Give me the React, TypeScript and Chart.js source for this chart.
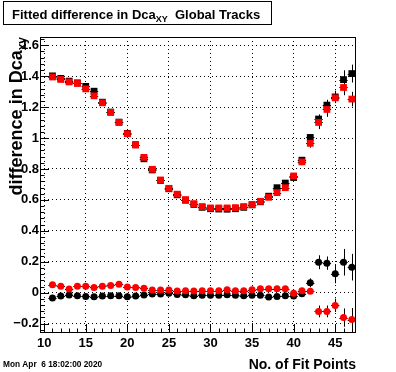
import { useEffect, useRef } from 'react';
import { Chart, registerables } from 'chart.js';

Chart.register(...registerables);

const fitPoints = [11, 12, 13, 14, 15, 16, 17, 18, 19, 20, 21, 22, 23, 24, 25, 26, 27, 28, 29, 30, 31, 32, 33, 34, 35, 36, 37, 38, 39, 40, 41, 42, 43, 44, 45, 46, 47];

const upperRed = [1.395, 1.379, 1.363, 1.353, 1.318, 1.273, 1.228, 1.166, 1.101, 1.028, 0.955, 0.875, 0.798, 0.729, 0.675, 0.637, 0.602, 0.576, 0.557, 0.548, 0.548, 0.548, 0.55, 0.557, 0.57, 0.591, 0.617, 0.647, 0.679, 0.755, 0.846, 0.966, 1.101, 1.185, 1.26, 1.327, 1.252];
const upperRedErr = [0.006, 0.006, 0.006, 0.006, 0.006, 0.006, 0.006, 0.006, 0.006, 0.006, 0.006, 0.006, 0.006, 0.006, 0.006, 0.006, 0.006, 0.006, 0.006, 0.006, 0.006, 0.006, 0.006, 0.006, 0.006, 0.006, 0.006, 0.006, 0.006, 0.008, 0.02, 0.028, 0.043, 0.048, 0.03, 0.05, 0.047];

const upperBlack = [1.402, 1.386, 1.368, 1.357, 1.334, 1.303, 1.232, 1.168, 1.103, 1.03, 0.957, 0.866, 0.794, 0.726, 0.672, 0.633, 0.598, 0.571, 0.552, 0.543, 0.541, 0.54, 0.543, 0.552, 0.568, 0.588, 0.624, 0.679, 0.709, 0.745, 0.857, 1.004, 1.123, 1.213, 1.266, 1.378, 1.417];
const upperBlackErr = [0.006, 0.006, 0.006, 0.006, 0.006, 0.006, 0.006, 0.006, 0.006, 0.006, 0.006, 0.006, 0.006, 0.006, 0.006, 0.006, 0.006, 0.006, 0.006, 0.006, 0.006, 0.006, 0.006, 0.006, 0.006, 0.006, 0.006, 0.006, 0.006, 0.008, 0.015, 0.02, 0.03, 0.035, 0.04, 0.06, 0.058];

const lowerRed = [0.052, 0.041, 0.024, 0.041, 0.041, 0.034, 0.041, 0.047, 0.054, 0.037, 0.034, 0.028, 0.017, 0.017, 0.017, 0.011, 0.013, 0.011, 0.013, 0.013, 0.013, 0.019, 0.013, 0.013, 0.019, 0.026, 0.026, 0.026, 0.026, -0.004, 0.013, 0.009, -0.121, -0.121, -0.082, -0.161, -0.174];
const lowerRedErr = [0.006, 0.006, 0.006, 0.006, 0.006, 0.006, 0.006, 0.006, 0.006, 0.006, 0.006, 0.006, 0.006, 0.006, 0.006, 0.006, 0.006, 0.006, 0.006, 0.006, 0.006, 0.006, 0.006, 0.006, 0.006, 0.006, 0.006, 0.006, 0.006, 0.006, 0.008, 0.01, 0.038, 0.038, 0.043, 0.059, 0.075];

const lowerBlack = [-0.034, -0.021, -0.015, -0.019, -0.024, -0.026, -0.021, -0.019, -0.019, -0.026, -0.021, -0.015, -0.009, -0.009, -0.004, -0.011, -0.013, -0.019, -0.017, -0.017, -0.017, -0.013, -0.017, -0.019, -0.017, -0.017, -0.028, -0.024, -0.019, -0.022, -0.006, 0.064, 0.197, 0.191, 0.123, 0.197, 0.165];
const lowerBlackErr = [0.006, 0.006, 0.006, 0.006, 0.006, 0.006, 0.006, 0.006, 0.006, 0.006, 0.006, 0.006, 0.006, 0.006, 0.006, 0.006, 0.006, 0.006, 0.006, 0.006, 0.006, 0.006, 0.006, 0.006, 0.006, 0.006, 0.006, 0.006, 0.006, 0.006, 0.01, 0.029, 0.045, 0.043, 0.062, 0.086, 0.086];

const xTickValues = [10, 15, 20, 25, 30, 35, 40, 45];
const yTickValues = [-0.2, 0, 0.2, 0.4, 0.6, 0.8, 1, 1.2, 1.4, 1.6];

const X_MIN = 9.5;
const X_MAX = 47.5;
const Y_MIN = -0.2606;
const Y_MAX = 1.6535;

const FONT = '"Liberation Sans", Arial, Helvetica, sans-serif';

const errorBarPlugin = {
  id: 'errorBars',
  beforeDatasetDraw(chart: any, args: any) {
    const ds = chart.data.datasets[args.index];
    const errs: number[] | undefined = ds.errors;
    if (!errs) return;
    const xs = chart.scales.x;
    const ys = chart.scales.y;
    const ctx = chart.ctx;
    ctx.save();
    ctx.strokeStyle = '#000';
    ctx.lineWidth = 1;
    ctx.beginPath();
    ds.data.forEach((p: any, i: number) => {
      const x = Math.round(xs.getPixelForValue(p.x)) + 0.5;
      const yy = Math.round(ys.getPixelForValue(p.y)) + 0.5;
      const y1 = ys.getPixelForValue(p.y - errs[i]);
      const y2 = ys.getPixelForValue(p.y + errs[i]);
      const xl = xs.getPixelForValue(p.x - 0.5);
      const xr = xs.getPixelForValue(p.x + 0.5);
      ctx.moveTo(x, y1);
      ctx.lineTo(x, y2);
      ctx.moveTo(xl, yy);
      ctx.lineTo(xr, yy);
    });
    ctx.stroke();
    ctx.restore();
  },
};

function drawSubText(ctx: CanvasRenderingContext2D, parts: { t: string; sub?: boolean }[], x: number, y: number, size: number, subSize: number, subDrop: number) {
  let cx = x;
  parts.forEach((p) => {
    ctx.font = `bold ${p.sub ? subSize : size}px ${FONT}`;
    ctx.fillText(p.t, cx, p.sub ? y + subDrop : y);
    cx += ctx.measureText(p.t).width;
  });
  return cx - x;
}

function measureSubText(ctx: CanvasRenderingContext2D, parts: { t: string; sub?: boolean }[], size: number, subSize: number) {
  let w = 0;
  parts.forEach((p) => {
    ctx.font = `bold ${p.sub ? subSize : size}px ${FONT}`;
    w += ctx.measureText(p.t).width;
  });
  return w;
}

const framePlugin = {
  id: 'rootFrame',
  afterDraw(chart: any) {
    const ctx: CanvasRenderingContext2D = chart.ctx;
    const { left, right, top, bottom } = chart.chartArea;
    const xs = chart.scales.x;
    const ys = chart.scales.y;
    ctx.save();
    ctx.strokeStyle = '#000';
    ctx.lineWidth = 1;
    // frame
    ctx.strokeRect(Math.round(left) + 0.5, Math.round(top) + 0.5, Math.round(right - left) - 1, Math.round(bottom - top) - 1);
    // y ticks
    ctx.beginPath();
    const yMajorLen = 9;
    const yMinorLen = 4.5;
    const yStep = yTickValues[1] - yTickValues[0];
    const yAll: { v: number; major: boolean }[] = [];
    yTickValues.forEach((v, i) => {
      yAll.push({ v, major: true });
      for (let k = 1; k < 5; k++) {
        yAll.push({ v: v + (yStep * k) / 5, major: false });
      }
      if (i === 0) {
        for (let k = 1; k < 5; k++) yAll.push({ v: v - (yStep * k) / 5, major: false });
      }
    });
    yAll.forEach(({ v, major }) => {
      if (v < Y_MIN || v > Y_MAX) return;
      const py = Math.round(ys.getPixelForValue(v)) + 0.5;
      ctx.moveTo(left, py);
      ctx.lineTo(left + (major ? yMajorLen : yMinorLen), py);
    });
    // x ticks
    for (let v = Math.ceil(X_MIN); v <= X_MAX; v++) {
      const major = xTickValues.includes(v);
      const px = Math.round(xs.getPixelForValue(v)) + 0.5;
      ctx.moveTo(px, bottom);
      ctx.lineTo(px, bottom - (major ? 9 : 4.5));
    }
    ctx.stroke();

    // title box
    ctx.fillStyle = '#000';
    ctx.strokeRect(3.5, 1.5, 268, 23);
    ctx.textBaseline = 'alphabetic';
    ctx.textAlign = 'left';
    drawSubText(ctx, [{ t: 'Fitted difference in Dca' }, { t: 'XY', sub: true }, { t: '  Global Tracks' }], 12, 18.5, 13, 9, 3);

    // x axis title
    ctx.font = `bold 14px ${FONT}`;
    ctx.textAlign = 'right';
    ctx.fillText('No. of Fit Points', 356, 369);

    // y axis title
    const yParts = [{ t: 'difference in Dca' }, { t: 'xy', sub: true }];
    ctx.textAlign = 'left';
    const ySize = 18;
    const ySub = 12;
    const w = measureSubText(ctx, yParts, ySize, ySub);
    ctx.save();
    ctx.translate(22, 37 + w);
    ctx.rotate(-Math.PI / 2);
    drawSubText(ctx, yParts, 0, 0, ySize, ySub, 4);
    ctx.restore();

    // date
    ctx.font = `bold 8.3px ${FONT}`;
    ctx.textAlign = 'left';
    ctx.fillText('Mon Apr  6 18:02:00 2020', 3, 367);
    ctx.restore();
  },
};

export default function App() {
  const ref = useRef<HTMLCanvasElement>(null);

  useEffect(() => {
    const mk = (ys: number[]) => fitPoints.map((x, i) => ({ x, y: ys[i] }));
    const chart = new Chart(ref.current as HTMLCanvasElement, {
      type: 'scatter',
      data: {
        datasets: [
          {
            label: 'upper red',
            data: mk(upperRed),
            errors: upperRedErr,
            pointStyle: 'rect',
            pointRadius: 4.8,
            backgroundColor: '#ff0000',
            borderColor: '#ff0000',
            borderWidth: 0,
          } as any,
          {
            label: 'upper black',
            data: mk(upperBlack),
            errors: upperBlackErr,
            pointStyle: 'rect',
            pointRadius: 4.8,
            backgroundColor: '#000000',
            borderColor: '#000000',
            borderWidth: 0,
          } as any,
          {
            label: 'lower red',
            data: mk(lowerRed),
            errors: lowerRedErr,
            pointStyle: 'circle',
            pointRadius: 3.5,
            backgroundColor: '#ff0000',
            borderColor: '#ff0000',
            borderWidth: 0,
          } as any,
          {
            label: 'lower black',
            data: mk(lowerBlack),
            errors: lowerBlackErr,
            pointStyle: 'circle',
            pointRadius: 3.5,
            backgroundColor: '#000000',
            borderColor: '#000000',
            borderWidth: 0,
          } as any,
        ],
      },
      options: {
        responsive: false,
        animation: false,
        devicePixelRatio: 1,
        layout: { padding: { top: 37, right: 40, left: 0, bottom: 0 } },
        plugins: {
          legend: { display: false },
          tooltip: { enabled: false },
          title: { display: false },
        },
        scales: {
          x: {
            type: 'linear',
            min: X_MIN,
            max: X_MAX,
            afterBuildTicks: (scale: any) => {
              scale.ticks = xTickValues.map((value) => ({ value }));
            },
            afterFit: (scale: any) => {
              scale.height = 39;
            },
            ticks: {
              color: '#000',
              font: { family: FONT, size: 13, weight: 'bold' },
              padding: 3,
              maxRotation: 0,
              autoSkip: false,
              callback: (v: any) => String(v),
            },
            grid: { color: '#000', lineWidth: 1, drawTicks: false },
            border: { display: false, dash: [1, 3] },
          },
          y: {
            type: 'linear',
            min: Y_MIN,
            max: Y_MAX,
            afterBuildTicks: (scale: any) => {
              scale.ticks = yTickValues.map((value) => ({ value }));
            },
            afterFit: (scale: any) => {
              scale.width = 40;
            },
            ticks: {
              color: '#000',
              font: { family: FONT, size: 13, weight: 'bold' },
              padding: 1,
              autoSkip: false,
              callback: (v: any) => (v < 0 ? '\u2212' + String(Math.abs(v)) : String(v)),
            },
            grid: { color: '#000', lineWidth: 1, drawTicks: false },
            border: { display: false, dash: [1, 3] },
          },
        },
      } as any,
      plugins: [errorBarPlugin, framePlugin],
    });
    return () => chart.destroy();
  }, []);

  return (
    <div style={{ position: 'absolute', left: 0, top: 0, width: 396, height: 372, background: '#fff' }}>
      <canvas ref={ref} width={396} height={372} style={{ display: 'block', width: 396, height: 372 }} />
    </div>
  );
}
